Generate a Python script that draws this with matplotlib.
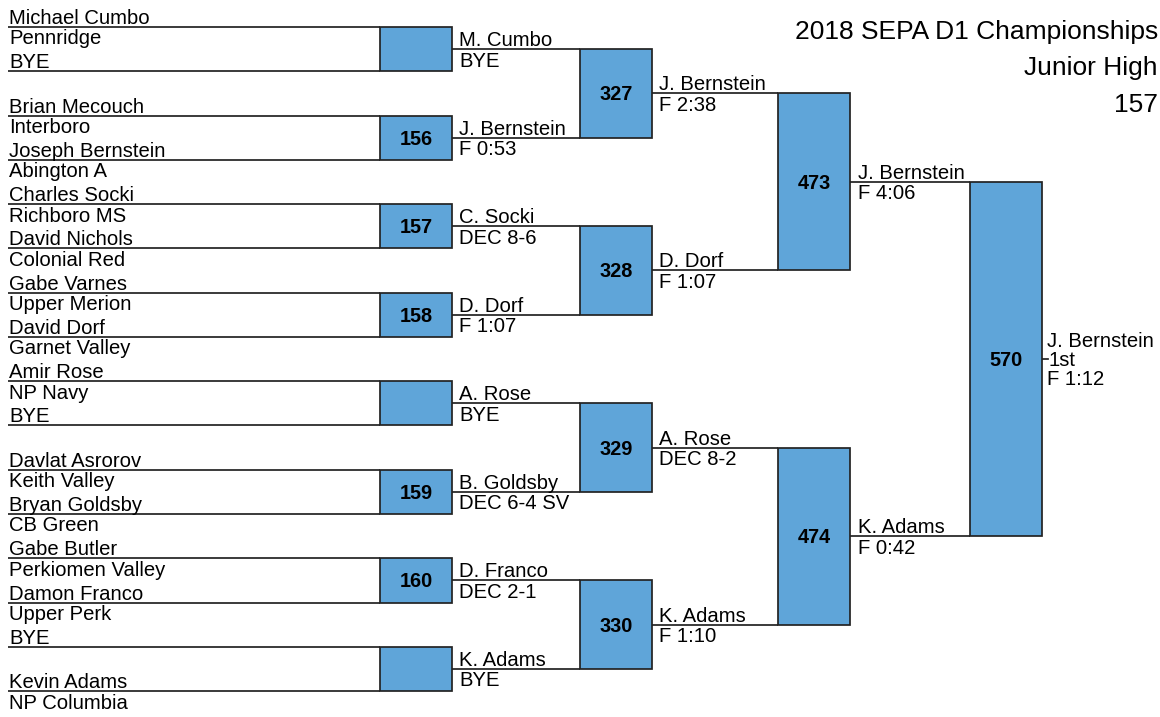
import matplotlib.pyplot as plt
from matplotlib.patches import Rectangle
import numpy as np

plt.rcParams['font.family'] = ['Liberation Sans', 'DejaVu Sans']

# 1回戦 (16 lines: name above, school below)
names = ['Michael Cumbo', 'BYE', 'Brian Mecouch', 'Joseph Bernstein',
         'Charles Socki', 'David Nichols', 'Gabe Varnes', 'David Dorf',
         'Amir Rose', 'BYE', 'Davlat Asrorov', 'Bryan Goldsby',
         'Gabe Butler', 'Damon Franco', 'BYE', 'Kevin Adams']
schools = ['Pennridge', '', 'Interboro', 'Abington A',
           'Richboro MS', 'Colonial Red', 'Upper Merion', 'Garnet Valley',
           'NP Navy', '', 'Keith Valley', 'CB Green',
           'Perkiomen Valley', 'Upper Perk', '', 'NP Columbia']
r1_bouts = ['', '156', '157', '158', '', '159', '160', '']

r2_names = ['M. Cumbo', 'J. Bernstein', 'C. Socki', 'D. Dorf',
            'A. Rose', 'B. Goldsby', 'D. Franco', 'K. Adams']
r2_results = ['BYE', 'F 0:53', 'DEC 8-6', 'F 1:07',
              'BYE', 'DEC 6-4 SV', 'DEC 2-1', 'BYE']
r2_bouts = ['327', '328', '329', '330']

r3_names = ['J. Bernstein', 'D. Dorf', 'A. Rose', 'K. Adams']
r3_results = ['F 2:38', 'F 1:07', 'DEC 8-2', 'F 1:10']
r3_bouts = ['473', '474']

r4_names = ['J. Bernstein', 'K. Adams']
r4_results = ['F 4:06', 'F 0:42']
final_bout = ['570']

champ, place, champ_result = 'J. Bernstein', '1st', 'F 1:12'
title_lines = ['2018 SEPA D1 Championships', 'Junior High', '157']

# レイアウト (pixel coords)
W, H = 1160, 717
fig = plt.figure(figsize=(W / 100, H / 100), dpi=100)
ax = fig.add_axes([0, 0, 1, 1])
ax.set_xlim(0, W)
ax.set_ylim(H, 0)
ax.axis('off')

FS = 14.6
FS_B = 14.3
LINE = '#222222'
LW = 1.25
BOX = '#5fa5d9'
BW = 72
box_x = [380, 580, 778, 970]
line_x = [8, 452, 652, 850, 1042]
pad = [1, 7, 7, 8]

rounds = [(names, schools), (r2_names, r2_results),
          (r3_names, r3_results), (r4_names, r4_results)]
bouts = [r1_bouts, r2_bouts, r3_bouts, final_bout]

y = 27 + 44.27 * np.arange(len(names))
for r, (top, bottom) in enumerate(rounds):
    x0, x1 = line_x[r], box_x[r]
    for i, yy in enumerate(y):
        ax.plot([x0, x1], [yy, yy], color=LINE, lw=LW, solid_capstyle='butt')
        ax.text(x0 + pad[r], yy - 3, top[i], fontsize=FS, va='baseline')
        ax.text(x0 + pad[r], yy + 17.5, bottom[i], fontsize=FS, va='baseline')
    for k in range(len(y) // 2):
        ya, yb = y[2 * k], y[2 * k + 1]
        ax.add_patch(Rectangle((box_x[r], ya), BW, yb - ya, fc=BOX, ec=LINE,
                               lw=LW, zorder=3))
        if bouts[r][k]:
            ax.text(box_x[r] + BW / 2, (ya + yb) / 2 + 7, bouts[r][k],
                    fontsize=FS_B, weight='bold', ha='center', va='baseline',
                    zorder=4)
    y = (y[0::2] + y[1::2]) / 2

# 優勝者
yc = y[0]
ax.plot([line_x[4], line_x[4] + 6], [yc, yc], color=LINE, lw=LW)
ax.text(1047, yc - 12, champ, fontsize=FS, va='baseline')
ax.text(1048, yc + 7, place, fontsize=FS, va='baseline')
ax.text(1047, yc + 26, champ_result, fontsize=FS, va='baseline')

# タイトル
for i, t in enumerate(title_lines):
    ax.text(1158, 39 + 36.5 * i, t, fontsize=19, ha='right', va='baseline')

fig.savefig('out.png', dpi=100)
